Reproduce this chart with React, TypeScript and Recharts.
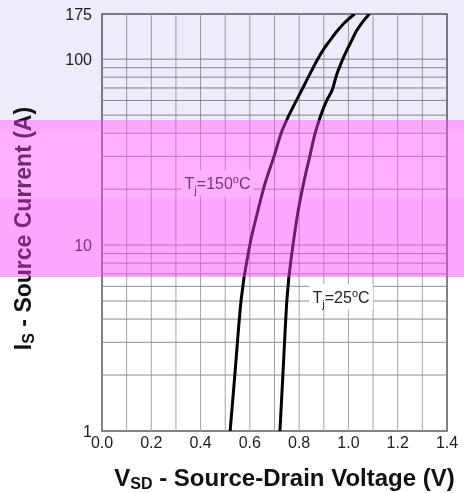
import React from 'react';
import { LineChart, Line, XAxis, YAxis, ReferenceLine, ReferenceArea, ReferenceDot, Label } from 'recharts';

// axis ticks and grid
const xTicks = [0, 0.2, 0.4, 0.6, 0.8, 1.0, 1.2, 1.4];
const yTicks = [1, 10, 100, 175];
const xGrid = [0.1, 0.2, 0.3, 0.4, 0.5, 0.6, 0.7, 0.8, 0.9, 1.0, 1.1, 1.2, 1.3];
const yGrid = [2, 3, 4, 5, 6, 7, 8, 9, 10, 20, 30, 40, 50, 60, 70, 80, 90, 100];

// source current (A) and the matching source-drain voltage (V) per junction temp
const current = [1, 2, 5, 10, 15, 20, 30, 40, 50, 60, 70, 80, 100, 115, 125, 140, 155, 175];
const vsd150 = [0.52, 0.539, 0.564, 0.6, 0.631, 0.655, 0.698, 0.727, 0.759, 0.789, 0.815, 0.837, 0.875, 0.903, 0.923, 0.951, 0.98, 1.025];
const vsd25 = [0.722, 0.734, 0.75, 0.775, 0.795, 0.813, 0.843, 0.865, 0.888, 0.912, 0.937, 0.949, 0.977, 0.998, 1.012, 1.03, 1.052, 1.085];

const data150 = current.map((i, k) => ({ v: vsd150[k], i }));
const data25 = current.map((i, k) => ({ v: vsd25[k], i }));

const FONT = '"Liberation Sans", Arial, sans-serif';

function TjLabel({ viewBox, temp, boxW }: any) {
  const cx = viewBox.x + (viewBox.width || 0) / 2;
  const cy = viewBox.y + (viewBox.height || 0) / 2;
  return (
    <g>
      <rect x={cx - boxW / 2} y={cy - 13} width={boxW} height={26} fill="#fff" />
      <text x={cx} y={cy + 6} textAnchor="middle" fontSize={16} fill="#222" fontFamily={FONT}>
        T<tspan fontSize={11} dy={5}>j</tspan>
        <tspan dy={-5}>={temp}</tspan>
        <tspan fontSize={11} dy={-6}>o</tspan>
        <tspan dy={6}>C</tspan>
      </text>
    </g>
  );
}

function YTitle({ viewBox }: any) {
  const x = viewBox.x + 23;
  const y = viewBox.y + viewBox.height / 2 + 6;
  return (
    <text x={x} y={y} transform={`rotate(-90 ${x} ${y})`} textAnchor="middle" dominantBaseline="central"
      fontSize={23} fontWeight="bold" fill="#111" fontFamily={FONT}>
      I<tspan fontSize={16} dy={5}>S</tspan>
      <tspan dy={-5}> - Source Current (A)</tspan>
    </text>
  );
}

function XTitle({ viewBox }: any) {
  const x = viewBox.x + viewBox.width / 2 + 10;
  const y = viewBox.y + 55;
  return (
    <text x={x} y={y} textAnchor="middle" fontSize={24} fontWeight="bold" fill="#111" fontFamily={FONT}>
      V<tspan fontSize={16} dy={3}>SD</tspan>
      <tspan dy={-3}> - Source-Drain Voltage (V)</tspan>
    </text>
  );
}

const band = (top: number, height: number, background: string, blend?: string): React.CSSProperties => ({
  position: 'absolute',
  left: 0,
  top,
  width: 464,
  height,
  background,
  mixBlendMode: blend as any,
  pointerEvents: 'none',
});

export default function App() {
  return (
    <div style={{ position: 'absolute', left: 0, top: 0, width: 464, height: 493, background: '#fff', overflow: 'hidden' }}>
      <LineChart width={464} height={493} margin={{ top: 14, right: 17, left: 0, bottom: 0 }}>
        <XAxis
          type="number"
          dataKey="v"
          domain={[0, 1.4]}
          ticks={xTicks}
          tickFormatter={(t: number) => t.toFixed(1)}
          height={62}
          axisLine={false}
          tickLine={false}
          tick={{ fill: '#222', fontSize: 16, fontFamily: FONT }}
          tickMargin={0}
        >
          <Label content={<XTitle />} />
        </XAxis>
        <YAxis
          type="number"
          dataKey="i"
          scale="log"
          domain={[1, 175]}
          allowDataOverflow
          ticks={yTicks}
          width={102}
          axisLine={false}
          tickLine={false}
          tick={{ fill: '#222', fontSize: 16, fontFamily: FONT }}
          tickMargin={4}
        >
          <Label content={<YTitle />} />
        </YAxis>

        {xGrid.map((v) => (
          <ReferenceLine key={'x' + v} x={v} stroke="#a3a3a3" strokeWidth={1} />
        ))}
        {yGrid.map((v) => (
          <ReferenceLine key={'y' + v} y={v} stroke="#8f8f8f" strokeWidth={1} />
        ))}
        <ReferenceArea x1={0} x2={1.4} y1={1} y2={175} fill="none" stroke="#5a5a5a" strokeWidth={1.5} />

        <Line data={data150} dataKey="i" type="monotone" stroke="#000" strokeWidth={3} dot={false} isAnimationActive={false} />
        <Line data={data25} dataKey="i" type="monotone" stroke="#000" strokeWidth={3} dot={false} isAnimationActive={false} />

        <ReferenceDot x={0.469} y={21.5} r={0} fill="none" stroke="none" label={<TjLabel temp="150" boxW={72} />} />
        <ReferenceDot x={0.97} y={5.25} r={0} fill="none" stroke="none" label={<TjLabel temp="25" boxW={64} />} />
      </LineChart>

      <div style={band(0, 120, '#ececfb', 'multiply')} />
      <div style={band(120, 11, 'rgba(255, 60, 255, 0.45)')} />
      <div style={band(131, 68, 'rgba(255, 70, 255, 0.42)')} />
      <div style={band(199, 78, 'rgba(255, 60, 255, 0.45)')} />
    </div>
  );
}
